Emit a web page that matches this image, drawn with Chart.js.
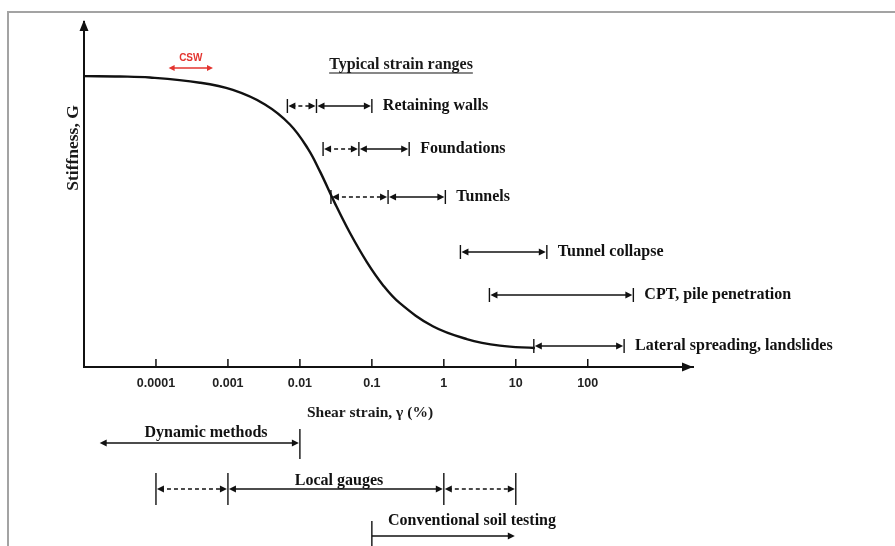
<!DOCTYPE html>
<html>
<head>
<meta charset="utf-8">
<title>Stiffness vs shear strain</title>
<script src="https://cdn.jsdelivr.net/npm/chart.js@4.4.1/dist/chart.umd.min.js"></script>
<style>
  html, body { margin: 0; padding: 0; background: #fff; }
  #wrap { position: relative; width: 895px; height: 546px; }
</style>
</head>
<body>
<div id="wrap"><canvas id="chart" width="895" height="546"></canvas></div>
<script>
// Shear strain axis (%), log scale
const strainTicks = [0.0001, 0.001, 0.01, 0.1, 1, 10, 100]
const tickLabels = ["0.0001", "0.001", "0.01", "0.1", "1", "10", "100"]

// Stiffness degradation curve (G, relative units)
const curveStrain = [0.00001, 0.0000316, 0.0000826, 0.000408, 0.00117, 0.00327, 0.00727, 0.0129, 0.019, 0.0306, 0.0495, 0.0853, 0.142, 0.245, 0.703, 2.08, 6.0, 18.4]
const curveStiffness = [84.3, 84.2, 83.9, 82.4, 80.3, 76.1, 70.3, 63.3, 56.7, 47.5, 38.9, 30.4, 23.8, 18.5, 11.8, 8.1, 6.2, 5.5]

// Typical strain ranges (dashed part runs from rangeDashFrom to rangeFrom)
const rangeNames = ["Retaining walls", "Foundations", "Tunnels", "Tunnel collapse", "CPT, pile penetration", "Lateral spreading, landslides"]
const rangeDashFrom = [0.0067, 0.021, 0.027, null, null, null]
const rangeFrom = [0.017, 0.066, 0.168, 1.7, 4.3, 17.8]
const rangeTo = [0.1, 0.33, 1.05, 27, 430, 320]

// Testing methods below the axis
const methodNames = ["Dynamic methods", "Local gauges", "Conventional soil testing"]
const methodDashFrom = [null, 0.0001, null]
const methodFrom = [0.000016, 0.001, 0.1]
const methodTo = [0.01, 1, 10]
const methodDashTo = [null, 10, null]

// CSW range
const cswRange = [0.00015, 0.00062]

// layout (pixels)
const rangeRowY = [106, 149, 197, 252, 295, 346]
const methodRowY = [443, 489, 536]
const serif = '"Liberation Serif", "Times New Roman", serif'
const sans = '"Liberation Sans", Arial, sans-serif'

function head(ctx, x, y, dir, len = 7, half = 3.5) {
  ctx.beginPath()
  ctx.moveTo(x, y)
  ctx.lineTo(x - dir * len, y - half)
  ctx.lineTo(x - dir * len, y + half)
  ctx.closePath()
  ctx.fill()
}

function segment(ctx, x1, x2, y, dashed, left, right) {
  ctx.save()
  ctx.setLineDash(dashed ? [4, 3] : [])
  ctx.beginPath()
  ctx.moveTo(x1 + (left ? 4 : 0), y)
  ctx.lineTo(x2 - (right ? 4 : 0), y)
  ctx.stroke()
  ctx.restore()
  if (left) head(ctx, x1 + 1, y, -1)
  if (right) head(ctx, x2 - 1, y, 1)
}

function tick(ctx, x, y1, y2) {
  ctx.beginPath()
  ctx.moveTo(x, y1)
  ctx.lineTo(x, y2)
  ctx.stroke()
}

const annotations = {
  id: "annotations",
  beforeDraw(chart) {
    const ctx = chart.ctx
    ctx.save()
    ctx.strokeStyle = "#a3a3a3"
    ctx.lineWidth = 2
    ctx.beginPath()
    ctx.moveTo(8, 546)
    ctx.lineTo(8, 12)
    ctx.lineTo(895, 12)
    ctx.stroke()
    ctx.restore()
  },
  afterDraw(chart) {
    const { ctx, chartArea } = chart
    const xs = chart.scales.x
    const px = (v) => xs.getPixelForValue(v)
    const axisY = chartArea.bottom
    ctx.save()
    ctx.fillStyle = "#111"
    ctx.strokeStyle = "#111"

    // axis arrowheads
    head(ctx, chartArea.right, axisY, 1, 11, 4.5)
    ctx.beginPath()
    ctx.moveTo(chartArea.left, chartArea.top - 2)
    ctx.lineTo(chartArea.left - 4.5, chartArea.top + 9)
    ctx.lineTo(chartArea.left + 4.5, chartArea.top + 9)
    ctx.closePath()
    ctx.fill()

    // upward tick marks
    ctx.lineWidth = 1.5
    strainTicks.forEach((v) => tick(ctx, px(v), axisY, axisY - 8))

    // axis titles
    ctx.fillStyle = "#1a1a1a"
    ctx.font = `bold 15.5px ${serif}`
    ctx.textAlign = "center"
    ctx.textBaseline = "middle"
    ctx.fillText("Shear strain, \u03b3 (%)", 370, 413)
    ctx.save()
    ctx.translate(73, 148)
    ctx.rotate(-Math.PI / 2)
    ctx.font = `bold 17.5px ${serif}`
    ctx.fillText("Stiffness, G", 0, 0)
    ctx.restore()

    // heading
    ctx.font = `bold 16px ${serif}`
    ctx.fillText("Typical strain ranges", 401, 65)
    const hw = ctx.measureText("Typical strain ranges").width
    ctx.lineWidth = 1.2
    ctx.beginPath()
    ctx.moveTo(401 - hw / 2, 73)
    ctx.lineTo(401 + hw / 2, 73)
    ctx.stroke()

    // typical strain ranges
    ctx.lineWidth = 1.4
    ctx.fillStyle = "#111"
    rangeNames.forEach((name, i) => {
      const y = rangeRowY[i]
      const a = px(rangeFrom[i])
      const b = px(rangeTo[i])
      if (rangeDashFrom[i] !== null) {
        const d = px(rangeDashFrom[i])
        tick(ctx, d, y - 7, y + 7)
        segment(ctx, d, a, y, true, true, true)
      }
      tick(ctx, a, y - 7, y + 7)
      tick(ctx, b, y - 7, y + 7)
      segment(ctx, a, b, y, false, true, true)
      ctx.textAlign = "left"
      ctx.fillText(name, b + 11, y)
    })

    // testing methods
    // dynamic methods
    let y = methodRowY[0]
    let a = px(methodFrom[0])
    let b = px(methodTo[0])
    segment(ctx, a, b, y, false, true, true)
    tick(ctx, b, y - 14, y + 16)
    ctx.textAlign = "center"
    ctx.fillText(methodNames[0], 206, y - 10)

    // local gauges
    y = methodRowY[1]
    const d1 = px(methodDashFrom[1])
    a = px(methodFrom[1])
    b = px(methodTo[1])
    const d2 = px(methodDashTo[1])
    ;[d1, a, b, d2].forEach((x) => tick(ctx, x, y - 16, y + 16))
    segment(ctx, d1, a, y, true, true, true)
    segment(ctx, a, b, y, false, true, true)
    segment(ctx, b, d2, y, true, true, true)
    ctx.fillText(methodNames[1], 339, y - 8)

    // conventional soil testing
    y = methodRowY[2]
    a = px(methodFrom[2])
    b = px(methodTo[2])
    tick(ctx, a, y - 15, 546)
    segment(ctx, a, b, y, false, false, true)
    ctx.fillText(methodNames[2], 472, y - 15)

    // CSW
    ctx.fillStyle = "#e3342f"
    ctx.strokeStyle = "#e3342f"
    ctx.lineWidth = 1.5
    const c1 = px(cswRange[0])
    const c2 = px(cswRange[1])
    ctx.beginPath()
    ctx.moveTo(c1 + 4, 68)
    ctx.lineTo(c2 - 4, 68)
    ctx.stroke()
    head(ctx, c1, 68, -1, 6, 3)
    head(ctx, c2, 68, 1, 6, 3)
    ctx.font = `bold 10px ${sans}`
    ctx.fillText("CSW", (c1 + c2) / 2, 58)
    ctx.restore()
  },
}

new Chart(document.getElementById("chart"), {
  type: "line",
  data: {
    datasets: [
      {
        data: curveStrain.map((s, i) => ({ x: s, y: curveStiffness[i] })),
        borderColor: "#111",
        borderWidth: 2.4,
        pointRadius: 0,
        tension: 0.4,
        fill: false,
      },
    ],
  },
  options: {
    responsive: false,
    animation: false,
    layout: { padding: { left: 84, right: 202, top: 22, bottom: 0 } },
    plugins: { legend: { display: false }, tooltip: { enabled: false } },
    scales: {
      x: {
        type: "logarithmic",
        min: 0.00001,
        max: 2900,
        afterFit: (s) => {
          s.height = 179
        },
        afterBuildTicks: (s) => {
          s.ticks = strainTicks.map((v) => ({ value: v }))
        },
        grid: { display: false, drawTicks: false },
        border: { display: true, color: "#111", width: 2 },
        ticks: {
          autoSkip: false,
          maxRotation: 0,
          padding: 9,
          color: "#222",
          font: { family: sans, size: 12.5, weight: "bold" },
          callback: (v, i) => tickLabels[i],
        },
      },
      y: {
        min: 0,
        max: 100,
        afterFit: (s) => {
          s.width = 0
        },
        grid: { display: false, drawTicks: false },
        border: { display: true, color: "#111", width: 2 },
        ticks: { display: false },
      },
    },
  },
  plugins: [annotations],
})
</script>
</body>
</html>
